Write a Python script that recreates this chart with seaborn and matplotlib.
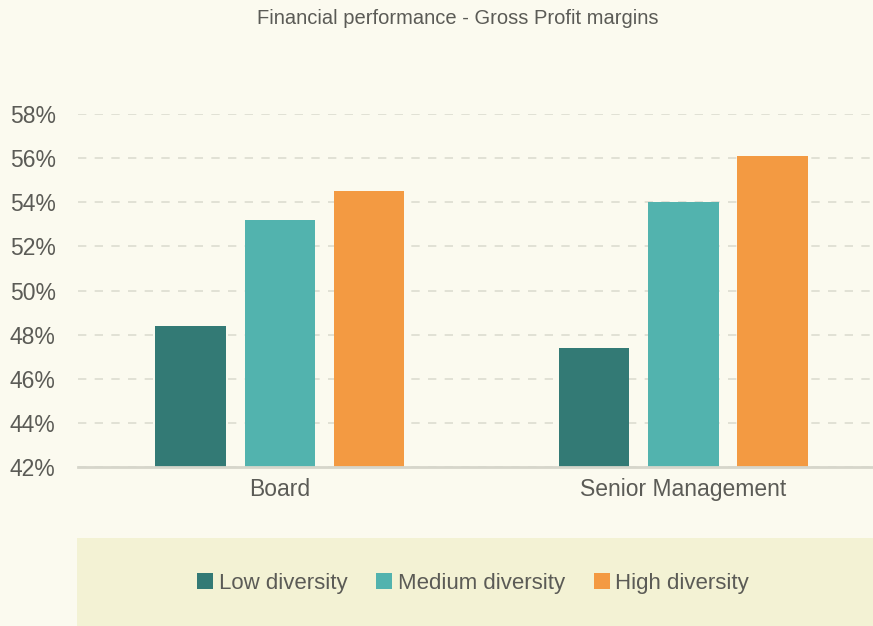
import matplotlib
matplotlib.use("Agg")
import matplotlib.pyplot as plt
import seaborn as sns
import pandas as pd
from matplotlib.patches import Rectangle, Patch

categories = ["Board", "Senior Management"]
series = ["Low diversity", "Medium diversity", "High diversity"]
low = [48.4, 47.4]
medium = [53.2, 54.0]
high = [54.5, 56.1]
colors = ["#337a75", "#52b3ae", "#f39a42"]
yticks = [42, 44, 46, 48, 50, 52, 54, 56, 58]

rows = []
for s, vals in zip(series, [low, medium, high]):
    for c, v in zip(categories, vals):
        rows.append({"Category": c, "Series": s, "Value": v})
df = pd.DataFrame(rows)

sns.set_theme(style="white")
plt.rcParams['font.family'] = ['Liberation Sans', 'DejaVu Sans']
text_color = "#5b5b56"
bg = "#fbfaef"

fig = plt.figure(figsize=(8.73, 6.26), dpi=100, facecolor=bg)
W, H = 873, 626
ax = fig.add_axes([78 / W, 1 - 467 / H, (873 - 78) / W, (467 - 114) / H])
ax.set_facecolor(bg)

sns.barplot(data=df, x="Category", y="Value", hue="Series", hue_order=series,
            order=categories, palette=colors, width=0.663, gap=0.21,
            ax=ax, legend=False, saturation=1, edgecolor="none")

ax.set_ylim(42, 58)
ax.set_xlim(-0.5, 1.47)
ax.set_yticks(yticks)
ax.set_yticklabels([f"{t}%" for t in yticks])
ax.set_xlabel("")
ax.set_ylabel("")
for sp in ["top", "right", "left"]:
    ax.spines[sp].set_visible(False)
ax.spines["bottom"].set_color("#d6d6cb")
ax.spines["bottom"].set_linewidth(2)
ax.grid(axis="y", color="#dcdcd0", linestyle=(0, (5, 5)), linewidth=1.2)
ax.set_axisbelow(True)
ax.tick_params(axis="y", length=0, labelsize=16.5, labelcolor=text_color, pad=49)
ax.tick_params(axis="x", length=0, labelsize=16.5, labelcolor=text_color, pad=8)
for lbl in ax.get_yticklabels():
    lbl.set_horizontalalignment("left")

fig.text(458 / W, 1 - 19 / H, "Financial performance - Gross Profit margins",
         ha="center", va="center", fontsize=14.5, color=text_color)

# legend band
fig.patches.append(Rectangle((77 / W, 0), (873 - 77) / W, (626 - 538) / H,
                             transform=fig.transFigure, facecolor="#f3f2d4",
                             edgecolor="none", zorder=0))
handles = [Patch(facecolor=c, edgecolor="none", label=s) for c, s in zip(colors, series)]
leg = fig.legend(handles=handles, loc="center", bbox_to_anchor=(473 / W, 1 - 583 / H),
                 ncol=3, frameon=False, fontsize=16, handlelength=0.72, handleheight=0.72,
                 handletextpad=0.25, columnspacing=1.3)
for t in leg.get_texts():
    t.set_color(text_color)

fig.savefig("out.png", dpi=100, facecolor=bg)
